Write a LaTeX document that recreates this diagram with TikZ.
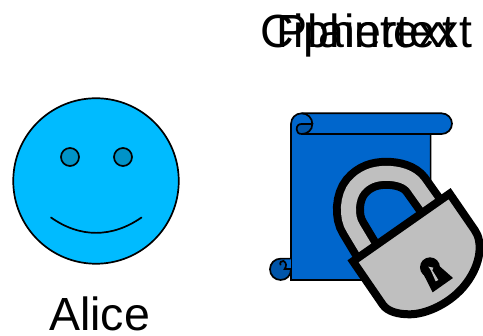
\documentclass[tikz,border=0pt]{standalone}
\usepackage{fontspec}
\setmainfont{Liberation Sans}
\definecolor{face}{HTML}{00BBFF}
\definecolor{eye}{HTML}{0093C8}
\definecolor{scrollc}{HTML}{0066CC}
\definecolor{scrolld}{HTML}{0055AA}
\definecolor{lockg}{HTML}{BFBFBF}
\tikzset{
  lbl/.style={inner sep=0pt,anchor=base,text=black},
  thin1/.style={draw=black,line width=1.7pt}
}
\begin{document}
\begin{tikzpicture}[x=1pt,y=-1pt]
\useasboundingbox (0,0) rectangle (483,336);
\clip (0,0) rectangle (483,336);
% face
\node[circle,thin1,fill=face,minimum size=165.5pt,inner sep=0pt] (head) at (96,181) {};
\node[circle,thin1,fill=eye,minimum size=18pt,inner sep=0pt] (eyeL) at (70,157) {};
\node[circle,thin1,fill=eye,minimum size=18pt,inner sep=0pt] (eyeR) at (123,157) {};
\draw[thin1,line cap=round] (51,217.5) .. controls (80,238) and (112,238) .. (141.5,217.5);
\node[lbl] (alice) at (99.5,331) {\fontsize{46.5}{50}\selectfont Alice};
% titles
\node[lbl] (plain) at (366,47.5) {\fontsize{46.5}{50}\selectfont Plaintext};
\node[lbl] (cipher) at (366,47.5) {\fontsize{46.5}{50}\selectfont Ciphertext};
% scroll
\begin{scope}[shift={(260,100)},x=0.3333pt,y=-0.3333pt]
\path[thin1,fill=scrollc] (93,72) .. controls (93,54) and (107,40) .. (125,40) -- (545,40)
  .. controls (562,40) and (576,54) .. (576,71) .. controls (576,88) and (562,102) .. (545,102)
  -- (512,102) -- (512,540) -- (93,540) -- cycle;
\draw[thin1] (125,102) -- (545,102);
\fill[scrolld] (62,476) .. controls (44,476) and (30,490) .. (30,508)
  .. controls (30,526) and (44,540) .. (62,540) .. controls (80,540) and (93,526) .. (93,508)
  -- (93,476) -- cycle;
\fill[scrollc] (76,478) rectangle (92,506);
\draw[thin1] (93,508) .. controls (93,526) and (80,540) .. (62,540)
  .. controls (44,540) and (30,526) .. (30,508) .. controls (30,490) and (44,476) .. (62,476) -- (93,476);
\draw[thin1] (62,496) .. controls (58,488) and (64,481) .. (70,483) .. controls (80,487) and (80,500) .. (74,507) -- (93,507);
\draw[thin1,fill=scrolld] (125,102) .. controls (115,102) and (110,96) .. (110,88)
  .. controls (110,78) and (115,72) .. (125,72) -- (157,72)
  .. controls (157,90) and (143,102) .. (125,102) -- cycle;
\draw[thin1] (125,40) .. controls (143,40) and (157,54) .. (157,72);
\end{scope}
% lock
\begin{scope}[shift={(323,150)},x=0.3333pt,y=-0.3333pt]
\draw[line width=31pt,draw=black] (130,300) -- (91,235) .. controls (68,200) and (73,140) .. (98,110)
  .. controls (123,80) and (155,70) .. (190,70) .. controls (225,70) and (260,80) .. (278,104) -- (325,170);
\draw[line width=15pt,draw=lockg] (130,300) -- (91,235) .. controls (68,200) and (73,140) .. (98,110)
  .. controls (123,80) and (155,70) .. (190,70) .. controls (225,70) and (260,80) .. (278,104) -- (325,170);
\path[draw=black,fill=lockg,line width=8pt,miter limit=10] (90,334) -- (380,131) -- (455,240)
  .. controls (480,275) and (475,340) .. (430,400) .. controls (385,460) and (310,493) .. (260,493)
  .. controls (225,493) and (195,485) .. (180,465) -- cycle;
\fill[black] (321,352) ellipse[x radius=30,y radius=30];
\fill[black] (300,370) -- (329,427) -- (390,384) -- (340,340) -- cycle;
\fill[lockg] (316,350) -- (331,353) -- (328,361) -- (346,390) -- (338,394) -- (323,360) -- cycle;
\end{scope}
\end{tikzpicture}
\end{document}
